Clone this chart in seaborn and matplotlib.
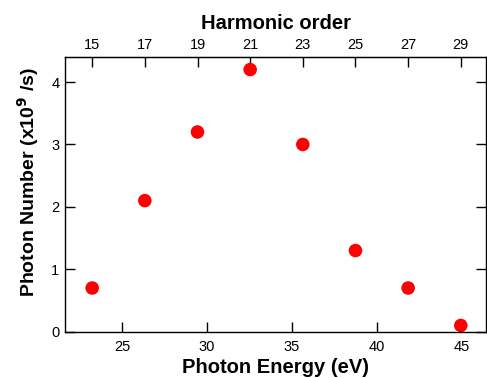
import matplotlib
matplotlib.use("Agg")
import matplotlib.pyplot as plt
import seaborn as sns
import pandas as pd

harmonic_order = [15, 17, 19, 21, 23, 25, 27, 29]
photon_energy = [23.25, 26.35, 29.45, 32.55, 35.65, 38.75, 41.85, 44.95]
photon_number = [0.7, 2.1, 3.2, 4.2, 3.0, 1.3, 0.7, 0.1]
top_ticks = [15, 17, 19, 21, 23, 25, 27, 29]
bottom_ticks = [25, 30, 35, 40, 45]
y_ticks = [0, 1, 2, 3, 4]

sns.set_style("ticks")
plt.rcParams['font.family'] = ['Liberation Sans', 'DejaVu Sans']
plt.rcParams['text.color'] = 'black'
plt.rcParams['axes.labelcolor'] = 'black'
plt.rcParams['xtick.color'] = 'black'
plt.rcParams['ytick.color'] = 'black'

df = pd.DataFrame({"E": photon_energy, "N": photon_number})

fig = plt.figure(figsize=(4.87, 3.78), dpi=100)
ax = fig.add_axes([0.1335, 0.1225, 0.865, 0.7265])
sns.scatterplot(data=df, x="E", y="N", ax=ax, color="#ff0000", s=95,
                edgecolor="none", linewidth=0, legend=False)

ax.set_xlim(21.65, 46.45)
ax.set_ylim(0, 4.4)
ax.set_xticks(bottom_ticks)
ax.set_yticks(y_ticks)
for s in ax.spines.values():
    s.set_visible(True)
    s.set_linewidth(1.0)
    s.set_color("black")
ax.tick_params(axis="both", direction="in", length=7, width=1, labelsize=10.5,
               colors="black", labelcolor="black", right=True, top=False)
ax.tick_params(axis="x", pad=6)
ax.tick_params(axis="y", pad=4)

ax.set_xlabel("Photon Energy (eV)", fontsize=14.5, fontweight="bold", labelpad=3)
ax.set_ylabel("Photon Number (x10$^{\\mathbf{9}}$ /s)", fontsize=14, fontweight="bold")
ax.yaxis.set_label_coords(-0.057, 0.545)

sec = ax.secondary_xaxis("top", functions=(lambda e: e / 1.55, lambda h: h * 1.55))
sec.set_xticks(top_ticks)
sec.tick_params(direction="in", length=7, width=1, labelsize=10.5, pad=4,
                colors="black", labelcolor="black")
sec.set_xlabel("Harmonic order", fontsize=14.5, fontweight="bold", labelpad=6)

fig.savefig("out.png", dpi=100)
